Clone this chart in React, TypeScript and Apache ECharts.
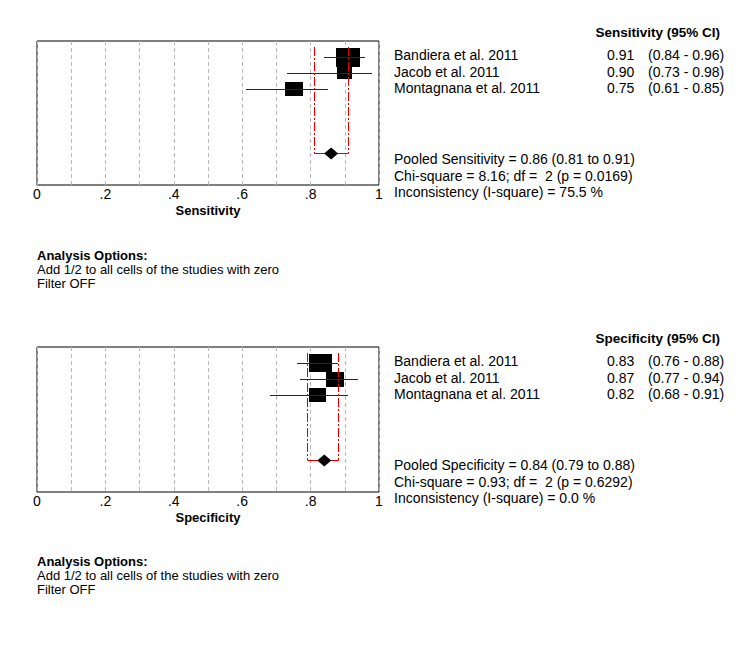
import React, { useEffect, useRef } from "react";
import * as echarts from "echarts";

const studies = ["Bandiera et al. 2011", "Jacob et al. 2011", "Montagnana et al. 2011"];
const studyRows = [1, 2, 3];

const sensEst = [0.91, 0.9, 0.75];
const sensLo = [0.84, 0.73, 0.61];
const sensHi = [0.96, 0.98, 0.85];
const sensWeight = [1.0, 0.63, 0.75];
const sensPooled = [0.86, 0.81, 0.91];
const sensStats = ["Chi-square = 8.16; df =  2 (p = 0.0169)", "Inconsistency (I-square) = 75.5 %"];

const specEst = [0.83, 0.87, 0.82];
const specLo = [0.76, 0.77, 0.68];
const specHi = [0.88, 0.94, 0.91];
const specWeight = [0.97, 0.77, 0.72];
const specPooled = [0.84, 0.79, 0.88];
const specStats = ["Chi-square = 0.93; df =  2 (p = 0.6292)", "Inconsistency (I-square) = 0.0 %"];

const xTickLabels = ["0", "", ".2", "", ".4", "", ".6", "", ".8", "", "1"];
const options = ["Add 1/2 to all cells of the studies with zero", "Filter OFF"];

const FONT = '"Liberation Sans", Arial, sans-serif';
const RED = "#e00000";
const BLUE = "#1010d8";

function txt(x: number, y: number, text: string, opts: any = {}) {
  return {
    type: "text",
    x,
    y,
    silent: true,
    style: {
      text,
      fill: "#000",
      fontFamily: FONT,
      fontSize: opts.size || 14,
      fontWeight: opts.bold ? "bold" : "normal",
      textAlign: opts.align || "left",
      textVerticalAlign: "middle",
    },
  };
}

const px = (v: number) => Math.round(v) + 0.5;

function studyRender(params: any, api: any) {
  const est = api.value(0), row = api.value(1), lo = api.value(2), hi = api.value(3), w = api.value(4);
  const c = api.coord([est, row]);
  const l = api.coord([lo, row]);
  const h = api.coord([hi, row]);
  const sw = Math.round(24 * w), sh = Math.round(19 * w);
  const y = px(c[1]);
  return {
    type: "group",
    children: [
      { type: "rect", shape: { x: Math.round(c[0] - sw / 2), y: Math.round(c[1] - sh / 2), width: sw, height: sh }, style: { fill: "#000" } },
      { type: "line", shape: { x1: Math.round(l[0]), y1: y, x2: Math.round(h[0]), y2: y }, style: { stroke: BLUE, lineWidth: 1 } },
    ],
  };
}

function pooledRender(params: any, api: any) {
  const est = api.value(0), row = api.value(1), lo = api.value(2), hi = api.value(3), top = api.value(4);
  const c = api.coord([est, row]);
  const lb = api.coord([lo, row]);
  const hb = api.coord([hi, row]);
  const lt = api.coord([lo, top]);
  const ht = api.coord([hi, top]);
  const dash = { stroke: RED, lineWidth: 1, lineDash: [9, 2, 2, 2] };
  const yb = px(lb[1]);
  const xl = px(lb[0]), xh = px(hb[0]);
  return {
    type: "group",
    children: [
      { type: "line", shape: { x1: xl, y1: Math.round(lt[1]), x2: xl, y2: yb }, style: dash },
      { type: "line", shape: { x1: xh, y1: Math.round(ht[1]), x2: xh, y2: yb }, style: dash },
      { type: "line", shape: { x1: xl, y1: yb, x2: xh, y2: yb }, style: { stroke: RED, lineWidth: 1 } },
      {
        type: "polygon",
        shape: { points: [[c[0] - 7, yb], [c[0], yb - 6], [c[0] + 7, yb], [c[0], yb + 6]] },
        style: { fill: "#000" },
      },
    ],
  };
}

function xAxis(gridIndex: number, name: string) {
  return {
    type: "value",
    gridIndex,
    min: 0,
    max: 1,
    interval: 0.1,
    name,
    nameLocation: "middle",
    nameGap: 19,
    nameTextStyle: { color: "#000", fontFamily: FONT, fontSize: 13, fontWeight: "bold" },
    axisLine: { show: false },
    axisTick: { show: false },
    axisLabel: {
      margin: 2,
      color: "#000",
      fontFamily: FONT,
      fontSize: 14,
      showMinLabel: true,
      showMaxLabel: true,
      formatter: (v: number) => xTickLabels[Math.round(v * 10)] ?? "",
    },
    splitLine: { show: true, lineStyle: { color: "#b8b8b8", type: [4, 3], width: 1 } },
  };
}

function yAxis(gridIndex: number) {
  return { type: "value", gridIndex, min: 0, max: 9, inverse: true, show: false, splitLine: { show: false } };
}

function panelText(offset: number, header: string, est: number[], lo: number[], hi: number[], pooledLabel: string, pooled: number[], stats: string[]) {
  const rowY = [55, 72, 88];
  const els: any[] = [txt(720, 32 + offset, header, { bold: true, align: "right", size: 13.5 })];
  studies.forEach((s, i) => {
    els.push(txt(394, rowY[i] + offset, s));
    els.push(txt(607, rowY[i] + offset, est[i].toFixed(2)));
    els.push(txt(648, rowY[i] + offset, `(${lo[i].toFixed(2)} - ${hi[i].toFixed(2)})`));
  });
  els.push(txt(394, 159 + offset, `${pooledLabel} = ${pooled[0].toFixed(2)} (${pooled[1].toFixed(2)} to ${pooled[2].toFixed(2)})`));
  els.push(txt(394, 176 + offset, stats[0]));
  els.push(txt(394, 192 + offset, stats[1]));
  els.push(txt(37, 255 + offset, "Analysis Options:", { bold: true, size: 13 }));
  els.push(txt(37, 269 + offset, options[0], { size: 13 }));
  els.push(txt(37, 283 + offset, options[1], { size: 13 }));
  return els;
}

export default function App() {
  const ref = useRef<HTMLDivElement>(null);
  useEffect(() => {
    if (!ref.current) return;
    const chart = echarts.init(ref.current, null, { renderer: "svg" });
    const studyData = (est: number[], lo: number[], hi: number[], w: number[]) =>
      est.map((e, i) => [e, studyRows[i], lo[i], hi[i], w[i]]);
    chart.setOption({
      animation: false,
      backgroundColor: "#fff",
      grid: [
        { left: 37, top: 41, width: 342, height: 144, show: true, borderColor: "#000", borderWidth: 1, backgroundColor: "transparent" },
        { left: 37, top: 347, width: 342, height: 145, show: true, borderColor: "#000", borderWidth: 1, backgroundColor: "transparent" },
      ],
      xAxis: [xAxis(0, "Sensitivity"), xAxis(1, "Specificity")],
      yAxis: [yAxis(0), yAxis(1)],
      series: [
        { type: "custom", xAxisIndex: 0, yAxisIndex: 0, renderItem: studyRender, data: studyData(sensEst, sensLo, sensHi, sensWeight), clip: false },
        { type: "custom", xAxisIndex: 0, yAxisIndex: 0, renderItem: pooledRender, data: [[sensPooled[0], 7, sensPooled[1], sensPooled[2], 0.4]], clip: false },
        { type: "custom", xAxisIndex: 1, yAxisIndex: 1, renderItem: studyRender, data: studyData(specEst, specLo, specHi, specWeight), clip: false },
        { type: "custom", xAxisIndex: 1, yAxisIndex: 1, renderItem: pooledRender, data: [[specPooled[0], 7, specPooled[1], specPooled[2], 0.4]], clip: false },
      ],
      graphic: [
        ...panelText(0, "Sensitivity (95% CI)", sensEst, sensLo, sensHi, "Pooled Sensitivity", sensPooled, sensStats),
        ...panelText(306, "Specificity (95% CI)", specEst, specLo, specHi, "Pooled Specificity", specPooled, specStats),
      ],
    });
    return () => chart.dispose();
  }, []);
  return <div ref={ref} style={{ position: "absolute", left: 0, top: 0, width: 754, height: 652 }} />;
}
